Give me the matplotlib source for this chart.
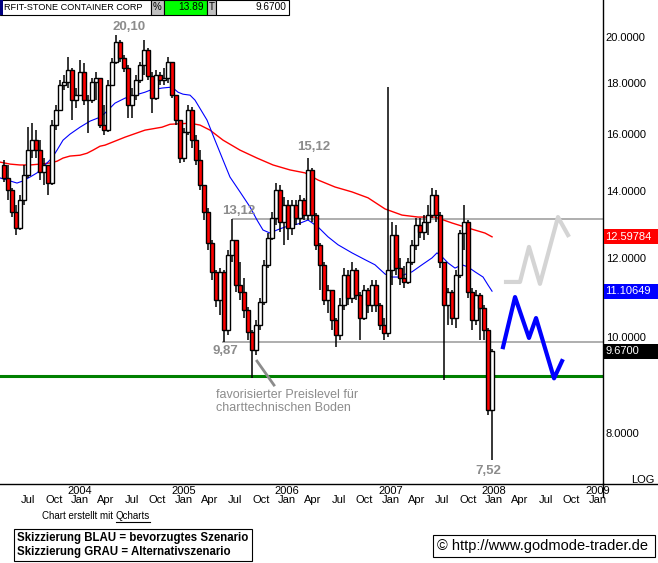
import numpy as np
import matplotlib
matplotlib.use("Agg")
import matplotlib.pyplot as plt
from matplotlib.patches import Rectangle
from matplotlib.lines import Line2D
from matplotlib.transforms import blended_transform_factory
from matplotlib.ticker import NullLocator, NullFormatter

plt.rcParams['font.family'] = ['Liberation Sans', 'DejaVu Sans']

# =====================
# DATA (~2-week candles)
# =====================
FIRST_T = 2003.266      # decimal year of first candle
STEP_T = 0.03865        # two weeks in years
FIRST_OPEN = 14.88

closes = [14.44, 14.04, 13.35, 12.86, 13.72, 14.54, 15.40, 15.76, 15.40, 14.64,
          14.88, 14.27, 16.32, 16.89, 17.90, 18.02, 18.53, 17.29, 17.49, 18.45,
          17.29, 17.29, 18.02, 18.19, 16.32, 16.13, 17.90, 18.88, 19.77, 19.06,
          18.62, 17.09, 17.49, 18.10, 18.75, 19.41, 18.27, 17.37, 18.31, 18.10,
          18.19, 18.88, 17.49, 16.51, 15.12, 16.06, 16.89, 15.76, 15.05, 14.20,
          13.35, 12.42, 11.62, 10.89, 11.62, 10.16, 12.08, 12.51, 11.27, 11.09,
          10.64, 10.11, 9.70, 10.28, 10.84, 11.81, 12.57, 13.16, 14.04, 13.04,
          13.56, 12.86, 13.56, 13.16, 13.72, 13.25, 14.71, 13.25, 12.37, 11.81,
          10.89, 11.14, 10.40, 10.04, 10.76, 11.54, 10.94, 11.67, 11.01, 10.45,
          11.14, 10.76, 11.27, 10.76, 10.28, 10.09, 11.67, 12.66, 11.72, 11.45,
          11.35, 11.89, 12.37, 12.95, 12.74, 13.04, 13.25, 13.88, 13.25, 11.89,
          10.76, 11.09, 10.45, 11.54, 12.71, 13.04, 11.09, 10.40, 11.01, 10.69,
          10.16, 8.44, 9.67]

highs = [15.05, 14.88, 14.11, 13.56, 13.88, 14.88, 16.24, 16.39, 16.13, 15.76,
         15.12, 14.88, 16.51, 17.09, 18.10, 18.31, 19.10, 18.62, 17.78, 18.97,
         18.84, 17.49, 18.19, 18.45, 18.19, 17.09, 18.10, 19.06, 20.10, 19.86,
         19.19, 18.75, 17.78, 18.31, 18.88, 19.86, 19.50, 18.45, 18.53, 18.45,
         18.62, 19.10, 18.88, 17.49, 16.51, 16.20, 17.09, 17.01, 15.94, 15.40,
         14.20, 13.47, 12.51, 11.67, 11.72, 11.67, 12.22, 13.12, 12.51, 11.89,
         11.45, 10.70, 10.16, 10.40, 10.94, 11.95, 12.71, 13.35, 14.27, 14.20,
         13.82, 13.72, 13.72, 13.72, 13.88, 13.79, 15.12, 14.78, 13.31, 12.42,
         11.89, 11.27, 11.14, 10.45, 10.94, 11.72, 11.67, 11.89, 11.72, 11.09,
         11.27, 11.19, 11.40, 11.40, 10.81, 10.45, 17.82, 13.04, 12.95, 12.00,
         11.78, 12.00, 12.51, 13.16, 13.16, 13.25, 13.56, 14.11, 14.04, 13.35,
         11.89, 11.19, 11.15, 11.67, 12.80, 13.56, 13.10, 11.19, 11.14, 11.06,
         10.76, 10.20, 9.72]

lows = [14.30, 13.72, 13.19, 12.66, 12.80, 13.56, 14.44, 15.12, 15.12, 14.37,
        14.20, 13.88, 14.20, 16.13, 16.89, 17.69, 17.78, 16.51, 16.97, 17.49,
        17.09, 16.02, 17.17, 17.29, 16.20, 15.94, 16.05, 17.85, 18.80, 18.88,
        18.45, 16.58, 16.58, 17.29, 18.00, 18.31, 18.10, 16.78, 17.29, 17.90,
        17.90, 17.98, 17.37, 16.32, 14.95, 15.00, 15.95, 15.47, 14.88, 14.04,
        13.10, 12.22, 11.40, 10.71, 10.52, 9.88, 10.04, 11.89, 11.09, 10.89,
        10.45, 9.93, 9.09, 9.58, 10.16, 10.76, 11.72, 12.51, 12.95, 12.74,
        12.37, 12.51, 12.66, 12.95, 12.95, 13.10, 13.10, 13.04, 12.22, 11.14,
        10.76, 10.57, 10.16, 9.76, 9.93, 10.64, 10.76, 10.81, 10.89, 9.93,
        10.40, 10.57, 10.59, 10.59, 10.16, 9.93, 9.99, 11.27, 11.54, 11.27,
        11.19, 11.30, 11.81, 12.22, 12.57, 12.51, 12.66, 13.16, 13.04, 11.72,
        9.05, 10.28, 10.28, 10.21, 11.45, 12.22, 10.94, 10.16, 10.28, 9.93,
        9.93, 8.34, 7.52]

# long moving average (red) and short moving average (blue), read as points
red_ma_t = [2003.227, 2003.324, 2003.420, 2003.517, 2003.614, 2003.710, 2003.778,
            2003.836, 2003.903, 2004.000, 2004.068, 2004.126, 2004.193, 2004.242,
            2004.435, 2004.628, 2004.792, 2004.870, 2005.063, 2005.159, 2005.256,
            2005.382, 2005.546, 2005.710, 2005.865, 2006.029, 2006.174, 2006.300,
            2006.464, 2006.628, 2006.783, 2006.947, 2007.111, 2007.266, 2007.430,
            2007.594, 2007.749, 2007.913, 2007.981]
red_ma = [14.98, 14.91, 14.88, 14.88, 14.91, 14.95, 15.01, 15.12, 15.19, 15.22,
          15.29, 15.40, 15.54, 15.58, 15.87, 16.13, 16.24, 16.35, 16.39, 16.32,
          16.13, 15.76, 15.40, 15.12, 14.88, 14.71, 14.61, 14.37, 14.14, 13.98,
          13.79, 13.44, 13.25, 13.19, 13.19, 13.01, 12.86, 12.71, 12.60]

blue_ma_t = [2003.227, 2003.324, 2003.391, 2003.449, 2003.517, 2003.585, 2003.662,
             2003.729, 2003.778, 2003.836, 2003.903, 2004.000, 2004.097, 2004.193,
             2004.242, 2004.338, 2004.435, 2004.531, 2004.628, 2004.676, 2004.792,
             2004.889, 2004.947, 2004.995, 2005.063, 2005.111, 2005.227, 2005.304,
             2005.382, 2005.449, 2005.546, 2005.643, 2005.710, 2005.768, 2005.836,
             2005.903, 2005.981, 2006.106, 2006.203, 2006.300, 2006.396, 2006.493,
             2006.628, 2006.754, 2006.850, 2006.947, 2007.014, 2007.072, 2007.208,
             2007.304, 2007.401, 2007.449, 2007.498, 2007.556, 2007.623, 2007.691,
             2007.749, 2007.816, 2007.894, 2007.942, 2007.981]
blue_ma = [14.44, 14.34, 14.27, 14.34, 14.47, 14.61, 14.88, 15.12, 15.40, 15.76,
           15.98, 16.24, 16.47, 16.62, 16.78, 17.17, 17.37, 17.49, 17.61, 17.69,
           17.78, 17.82, 17.61, 17.53, 17.49, 17.29, 16.51, 15.76, 15.05, 14.47,
           13.98, 13.50, 13.10, 12.80, 12.71, 12.80, 12.89, 12.98, 13.10, 12.89,
           12.60, 12.37, 12.14, 11.95, 11.81, 11.56, 11.48, 11.48, 11.62, 11.81,
           12.00, 12.14, 12.03, 11.86, 11.72, 11.81, 11.75, 11.62, 11.48, 11.27,
           11.11]

# sketched scenarios
blue_scen_t = [2008.087, 2008.203, 2008.338, 2008.406, 2008.580, 2008.657]
blue_scen = [9.76, 10.96, 9.97, 10.44, 9.08, 9.45]
gray_scen_t = [2008.116, 2008.251, 2008.338, 2008.444, 2008.618, 2008.715]
gray_scen = [11.35, 11.35, 12.31, 11.30, 13.19, 12.65]

SUPPORT = 9.14
LEVEL_TOP = 13.12
LEVEL_BOTTOM = 9.87
LAST = 9.67
RED_LAST = "12.59784"
BLUE_LAST = "11.10649"

y_ticks = [8, 10, 12, 14, 16, 18, 20]
month_names = ['Jan', 'Apr', 'Jul', 'Oct']

# =====================
# LAYOUT
# =====================
W, H = 658, 563
GRAY_TXT = '#8c8c8c'


def fx(px):
    return px / W


def fy(py):
    return 1 - py / H


def fig_rect(fig, x, y, w, h, face, edge='black', lw=0.8):
    r = Rectangle((fx(x), fy(y + h)), w / W, h / H, transform=fig.transFigure,
                  facecolor=face, edgecolor=edge, linewidth=lw)
    fig.add_artist(r)


fig = plt.figure(figsize=(W / 100, H / 100), dpi=100)
ax = fig.add_axes([0, fy(484), fx(603), 484 / H])
ax.set_yscale('log')
ax.set_ylim(7.11, 21.8)
ax.set_xlim(2003.227, 2009.053)

# =====================
# CANDLES
# =====================
n = len(closes)
t = FIRST_T + STEP_T * np.arange(n)
opens = np.array([FIRST_OPEN] + closes[:-1])
c = np.array(closes)
up = c >= opens
ax.vlines(t, lows, highs, color='black', lw=1.1, zorder=3)
body_lo = np.minimum(opens, c)
body_h = np.maximum(np.abs(c - opens), 0.02)
ax.bar(t, body_h, bottom=body_lo, width=0.035,
       color=np.where(up, 'white', '#ff0000'), edgecolor='black', linewidth=1.0, zorder=4)

ax.plot(red_ma_t, red_ma, color='#ff0000', lw=1, zorder=2)
ax.plot(blue_ma_t, blue_ma, color='#0000ff', lw=0.8, zorder=2)

# levels
ax.axhline(SUPPORT, color='#008000', lw=2.2, zorder=2)
ax.hlines(LEVEL_TOP, 2005.468, 2009.053, color='#a8a8a8', lw=1.3, zorder=1)
ax.hlines(LEVEL_BOTTOM, 2005.372, 2009.053, color='#a8a8a8', lw=1.3, zorder=1)

# scenarios
ax.plot(gray_scen_t, gray_scen, color='#d4d4d4', lw=3, zorder=2)
ax.plot(blue_scen_t, blue_scen, color='#0000ff', lw=3, zorder=2)

# price labels on chart
for txt, tx, ty in [("20,10", 2004.473, 20.47), ("15,12", 2006.261, 15.51),
                    ("13,12", 2005.536, 13.38), ("9,87", 2005.401, 9.67),
                    ("7,52", 2007.942, 7.32)]:
    ax.text(tx, ty, txt, color=GRAY_TXT, fontsize=9.5, fontweight='bold',
            ha='center', va='center', zorder=5)

ax.text(2005.314, 8.61, "favorisierter Preislevel für\ncharttechnischen Boden",
        color=GRAY_TXT, fontsize=9, ha='left', va='center', linespacing=1.15, zorder=5)
ax.plot([2005.710, 2005.874], [9.45, 8.94], color=GRAY_TXT, lw=2, zorder=5)

# =====================
# AXES
# =====================
for s in ['left', 'top']:
    ax.spines[s].set_visible(False)
for s in ['right', 'bottom']:
    ax.spines[s].set_color('black')
    ax.spines[s].set_linewidth(1)

ax.yaxis.tick_right()
ax.yaxis.set_minor_locator(NullLocator())
ax.yaxis.set_minor_formatter(NullFormatter())
ax.set_yticks(y_ticks)
ax.set_yticklabels([f"{v:.4f}" for v in y_ticks])
ax.tick_params(axis='y', length=0, pad=2, labelsize=8)
ax.set_xticks([])

xtrans = blended_transform_factory(ax.transData, fig.transFigure)
for q in np.arange(2003.5, 2009.01, 0.25):
    idx = int(round((q % 1) * 4)) % 4
    fig.text(q, fy(500), month_names[idx], transform=xtrans,
             ha='center', va='center', fontsize=8)
    if idx == 0:
        fig.text(q, fy(491), str(int(round(q))), transform=xtrans,
                 ha='center', va='center', fontsize=8)

fig.add_artist(Line2D([fx(603), 1], [fy(484), fy(484)], transform=fig.transFigure,
                      color='black', lw=1))
fig.add_artist(Line2D([fx(603), fx(603)], [fy(484), fy(497)], transform=fig.transFigure,
                      color='black', lw=1))
fig.text(fx(655), fy(480), "LOG", ha='right', va='center', fontsize=8)


def right_tag(value, label, face):
    yd = ax.transData.transform((2008.0, value))[1]
    yf = yd / H
    r = Rectangle((fx(604), yf - 7.5 / H), (W - 604) / W, 15 / H,
                  transform=fig.transFigure, facecolor=face, edgecolor='none')
    fig.add_artist(r)
    fig.text(fx(605), yf, label, color='white', fontsize=8, ha='left', va='center')


right_tag(float(RED_LAST), RED_LAST, '#ff0000')
right_tag(float(BLUE_LAST), BLUE_LAST, '#0000ff')
right_tag(LAST, f"{LAST:.4f}", 'black')

# =====================
# HEADER
# =====================
fig_rect(fig, 0, 0, 151, 15, 'white')
fig_rect(fig, 0, 0, 3, 15, '#000080', edge='none')
fig_rect(fig, 151, 0, 13, 15, '#c0c0c0')
fig_rect(fig, 164, 0, 43, 15, '#00ff00')
fig_rect(fig, 207, 0, 9, 15, '#c0c0c0')
fig_rect(fig, 216, 0, 73, 15, 'white')
fig.text(fx(4), fy(7.5), "RFIT-STONE CONTAINER CORP", fontsize=6.6, va='center')
fig.text(fx(152.5), fy(7.5), "%", fontsize=7, va='center')
fig.text(fx(204), fy(7.5), "13.89", fontsize=7.3, va='center', ha='right')
fig.text(fx(208.5), fy(7.5), "T", fontsize=7, va='center')
fig.text(fx(286), fy(7.5), "9.6700", fontsize=7.3, va='center', ha='right')

# =====================
# FOOTER
# =====================
renderer = fig.canvas.get_renderer()
t1 = fig.text(fx(42), fy(516), "Chart erstellt mit ", fontsize=7, va='center')
bb1 = t1.get_window_extent(renderer)
t2 = fig.text(bb1.x1 / W, fy(516), "Qcharts", fontsize=7, va='center')
bb2 = t2.get_window_extent(renderer)
fig.add_artist(Line2D([bb2.x0 / W, bb2.x1 / W], [(bb2.y0 - 1) / H, (bb2.y0 - 1) / H],
                      transform=fig.transFigure, color='black', lw=0.8))

fig_rect(fig, 14, 529, 238, 32, 'white')
fig.text(fx(17), fy(538), "Skizzierung BLAU = bevorzugtes Szenario",
         fontsize=8.3, fontweight='bold', va='center')
fig.text(fx(17), fy(552), "Skizzierung GRAU = Alternativszenario",
         fontsize=8.3, fontweight='bold', va='center')

fig_rect(fig, 433, 535, 222, 22, 'white')
fig.text(fx(437), fy(546), "© http://www.godmode-trader.de", fontsize=10.5, va='center')

fig.savefig("out.png", dpi=100, facecolor='white')
